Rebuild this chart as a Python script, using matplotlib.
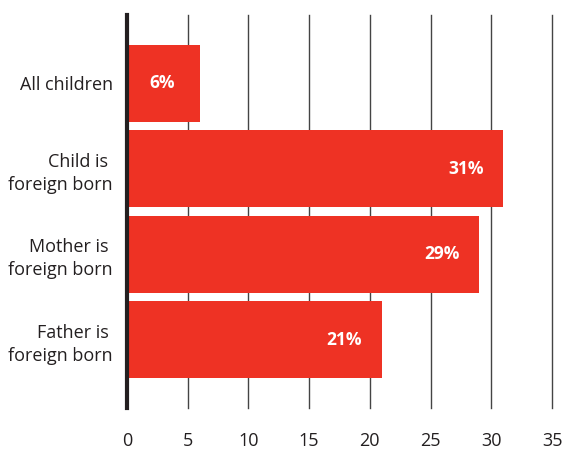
import matplotlib
matplotlib.use('Agg')
import matplotlib.pyplot as plt

# Share of children in each group
groups = ['All children', 'Child is \nforeign born', 'Mother is \nforeign born', 'Father is \nforeign born']
values = [6, 31, 29, 21]
value_labels = ['6%', '31%', '29%', '21%']
xticks = [0, 5, 10, 15, 20, 25, 30, 35]

plt.rcParams['font.family'] = ['Open Sans', 'DejaVu Sans']

fig = plt.figure(figsize=(5.65, 4.5), dpi=100)
ax = fig.add_axes([0.2248, 0.0933, 0.977 - 0.2248, 0.967 - 0.0933])

ypos = list(range(len(groups)))
ax.barh(ypos, values, height=0.9, color='#EE3224', zorder=3)

for y, v, lab in zip(ypos, values, value_labels):
    ax.text(v - 3.1, y, lab, ha='center', va='center', color='white',
            fontsize=12.5, fontweight='bold', zorder=4)

ax.set_xlim(0, 35)
ax.set_ylim(3.8, -0.8)
ax.set_xticks(xticks)
ax.set_yticks(ypos)
ax.set_yticklabels(groups, multialignment='right', linespacing=1.35)
ax.tick_params(axis='x', length=0, pad=17, labelsize=13, labelcolor='#231F20')
ax.tick_params(axis='y', length=0, pad=10, labelsize=13, labelcolor='#231F20')

ax.grid(axis='x', color='#444444', linewidth=1.0, zorder=1)
for gl in ax.xaxis.get_gridlines():
    gl.set_clip_on(False)
for side in ['top', 'right', 'bottom']:
    ax.spines[side].set_visible(False)
ax.spines['left'].set_linewidth(3)
ax.spines['left'].set_color('#231F20')
ax.spines['left'].set_zorder(5)

plt.savefig('out.png', dpi=100)
